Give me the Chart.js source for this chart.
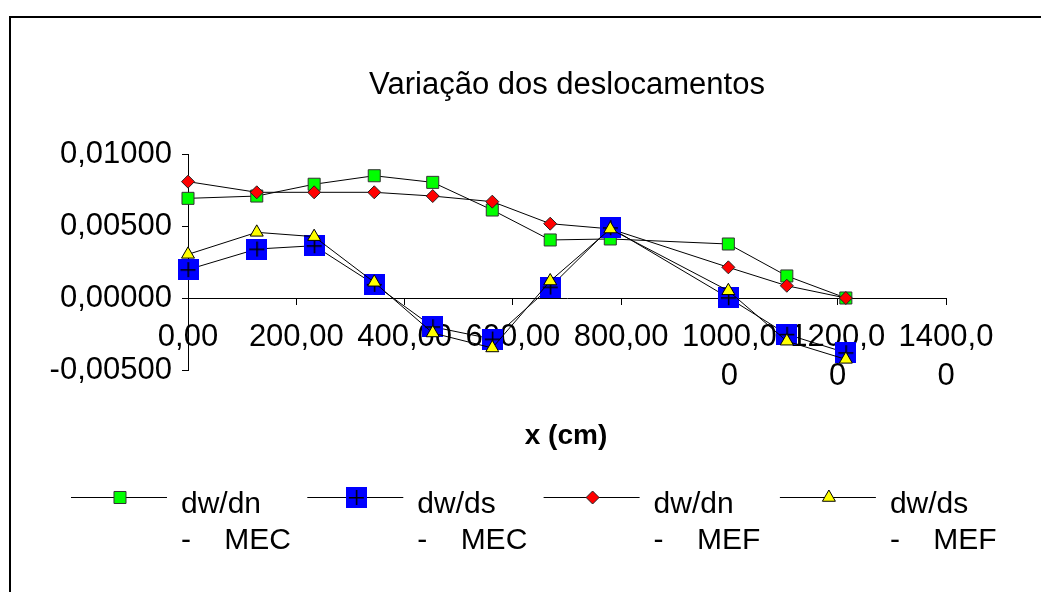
<!DOCTYPE html>
<html>
<head>
<meta charset="utf-8">
<title>Variação dos deslocamentos</title>
<script src="https://cdn.jsdelivr.net/npm/chart.js@4.4.1/dist/chart.umd.min.js"></script>
<style>
    html, body { margin: 0; padding: 0; background: #fff; }
    #wrap { position: relative; width: 1041px; height: 592px; }
</style>
</head>
<body>
<div id="wrap"><canvas id="chart" width="1041" height="592"></canvas></div>
<script>
// Positions along the beam (cm) and displacement values
let xCm = [0, 127, 233, 344, 452, 562, 669, 780, 998, 1106, 1215];
let dwdnMEC = [0.00692, 0.00708, 0.00790, 0.00849, 0.00803, 0.00611, 0.00403, 0.00410, 0.00375, 0.00153, 0.00000];
let dwdsMEC = [0.00197, 0.00340, 0.00363, 0.00095, -0.00200, -0.00285, 0.00076, 0.00488, 0.00002, -0.00252, -0.00380];
let dwdnMEF = [0.00808, 0.00734, 0.00734, 0.00734, 0.00708, 0.00669, 0.00516, 0.00480, 0.00213, 0.00085, 0.00000];
let dwdsMEF = [0.00303, 0.00456, 0.00426, 0.00109, -0.00243, -0.00347, 0.00118, 0.00479, 0.00050, -0.00300, -0.00426];

// Series names (first line / second line as wrapped in the legend)
let seriesNames = [["dw/dn", "-    MEC"], ["dw/ds", "-    MEC"], ["dw/dn", "-    MEF"], ["dw/ds", "-    MEF"]];

// Axis ticks
let xTicks = { min: 0, max: 1400, step: 200 };
let yTicks = { min: -0.005, max: 0.01, step: 0.005 };

let chartTitle = "Variação dos deslocamentos";
let xTitle = "x (cm)";

const FONT = "'Liberation Sans', Arial, sans-serif";

// Blue square with a black cross for dw/ds - MEC
function plusSquare() {
    let c = document.createElement("canvas");
    c.width = 21; c.height = 21;
    let g = c.getContext("2d");
    g.fillStyle = "#0000ff";
    g.fillRect(0, 0, 21, 21);
    g.fillStyle = "#000";
    g.fillRect(10, 3, 1.5, 15);
    g.fillRect(3, 10, 15, 1.5);
    return c;
}

function toPoints(ys) {
    return xCm.map((x, i) => ({ x: x, y: ys[i] }));
}

let datasets = [
    { label: seriesNames[0], data: toPoints(dwdnMEC), pointStyle: "rect", pointRadius: 8.5,
      pointBackgroundColor: "#00ff00", pointBorderColor: "#333", order: 4 },
    { label: seriesNames[1], data: toPoints(dwdsMEC), pointStyle: plusSquare(), pointRadius: 10,
      pointBackgroundColor: "#0000ff", pointBorderColor: "#0000ff", order: 2 },
    { label: seriesNames[2], data: toPoints(dwdnMEF), pointStyle: "rectRot", pointRadius: 6.5,
      pointBackgroundColor: "#ff0000", pointBorderColor: "#222", order: 3 },
    { label: seriesNames[3], data: toPoints(dwdsMEF), pointStyle: "triangle", pointRadius: 7.5,
      pointBackgroundColor: "#ffff00", pointBorderColor: "#000", order: 1 }
];
datasets.forEach(d => {
    d.borderColor = "#000";
    d.borderWidth = 1;
    d.pointBorderWidth = 1;
    d.pointHoverRadius = d.pointRadius;
    d.tension = 0;
    d.fill = false;
    d.clip = false;
});

// Frame, title, axis title and two-line legend
let decorations = {
    id: "decorations",
    afterDraw(chart) {
        let ctx = chart.ctx;
        ctx.save();
        ctx.strokeStyle = "#000";
        ctx.lineWidth = 2;
        ctx.beginPath();
        ctx.moveTo(10, 592);
        ctx.lineTo(10, 17);
        ctx.lineTo(1041, 17);
        ctx.stroke();

        ctx.fillStyle = "#000";
        ctx.textAlign = "center";
        ctx.textBaseline = "alphabetic";
        ctx.font = "31px " + FONT;
        ctx.fillText(chartTitle, 567, 94);

        ctx.font = "bold 28px " + FONT;
        ctx.fillText(xTitle, 566, 444);

        chart.data.datasets.forEach((ds, i) => {
            let mx = 120 + i * 236.3;
            let my = 497.5;
            ctx.strokeStyle = "#000";
            ctx.lineWidth = 1;
            ctx.beginPath();
            ctx.moveTo(mx - 49, my);
            ctx.lineTo(mx + 47, my);
            ctx.stroke();

            ctx.fillStyle = ds.pointBackgroundColor;
            ctx.strokeStyle = ds.pointBorderColor;
            ctx.lineWidth = ds.pointBorderWidth;
            Chart.helpers.drawPoint(ctx, {
                pointStyle: ds.pointStyle, radius: ds.pointRadius,
                rotation: 0, borderWidth: ds.pointBorderWidth
            }, mx, my);

            ctx.fillStyle = "#000";
            ctx.textAlign = "left";
            ctx.font = "30px " + FONT;
            ctx.fillText(ds.label[0], mx + 61, 513);
            ctx.fillText(ds.label[1], mx + 61, 549);
        });
        ctx.restore();
    }
};

function fmt(v, d) {
    return v.toFixed(d).replace(".", ",");
}

new Chart(document.getElementById("chart"), {
    type: "line",
    data: { datasets: datasets },
    options: {
        responsive: false,
        animation: false,
        devicePixelRatio: 1,
        layout: { padding: { top: 154, right: 95, bottom: 222, left: 0 } },
        plugins: { legend: { display: false }, tooltip: { enabled: false }, title: { display: false } },
        scales: {
            x: {
                type: "linear",
                position: { y: 0 },
                min: xTicks.min,
                max: xTicks.max,
                border: { color: "#000", width: 1 },
                grid: { drawOnChartArea: false, drawTicks: true, tickLength: 6, color: "#000" },
                ticks: {
                    stepSize: xTicks.step,
                    autoSkip: false,
                    maxRotation: 0,
                    minRotation: 0,
                    padding: 14,
                    color: "#000",
                    font: { family: FONT, size: 31, lineHeight: 1.25 },
                    callback: v => {
                        let s = fmt(v, 2);
                        return s.length > 6 ? [s.slice(0, 6), s.slice(6)] : s;
                    }
                }
            },
            y: {
                position: "left",
                min: yTicks.min,
                max: yTicks.max,
                afterFit: s => { s.width = 188; },
                border: { color: "#000", width: 1 },
                grid: { drawOnChartArea: false, drawTicks: true, tickLength: 6, color: "#000" },
                ticks: {
                    stepSize: yTicks.step,
                    padding: 10,
                    color: "#000",
                    font: { family: FONT, size: 31 },
                    callback: v => fmt(v, 5)
                }
            }
        }
    },
    plugins: [decorations]
});
</script>
</body>
</html>
